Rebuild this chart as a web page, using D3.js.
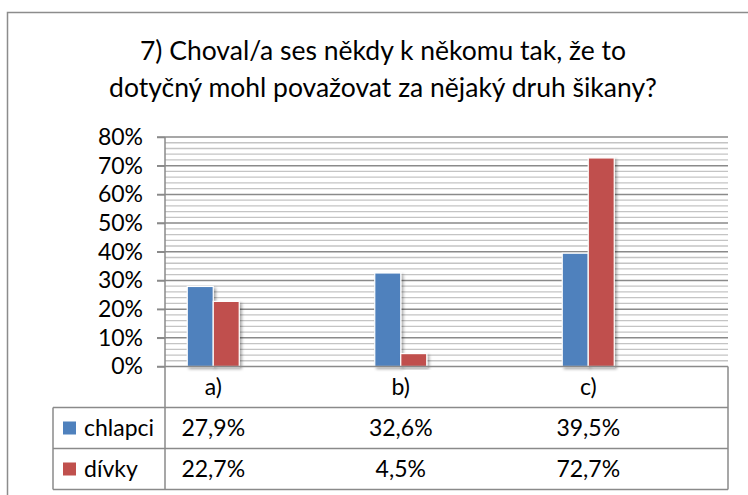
<!DOCTYPE html>
<html>
<head>
<meta charset="utf-8">
<script src="https://cdn.jsdelivr.net/npm/d3@7"></script>
<style>
  body { margin: 0; background: #fff; }
  text { font-family: Lato, "Open Sans", sans-serif; fill: #000; }
</style>
</head>
<body>
<svg id="chart"></svg>
<script>
// ===============================
// Data
// ===============================
const titleLines = [
    "7) Choval/a ses někdy k někomu tak, že to",
    "dotyčný mohl považovat za nějaký druh šikany?"
];
const categories = ["a)", "b)", "c)"];
const seriesNames = ["chlapci", "dívky"];
const chlapci = [27.9, 32.6, 39.5];
const divky = [22.7, 4.5, 72.7];
const yTicks = [0, 10, 20, 30, 40, 50, 60, 70, 80];

const seriesColors = ["#4F81BD", "#C0504D"];

// ===============================
// Layout
// ===============================
const width = 748, height = 495;
const plot = { left: 165, right: 728, top: 137, bottom: 366.5 };
const table = { left: 53, rowH: 41 };
const fontSize = 23;

const svg = d3.select("#chart").attr("width", width).attr("height", height);

// drop shadow for the bars
const defs = svg.append("defs");
defs.append("filter")
    .attr("id", "shadow")
    .attr("x", "-20%").attr("y", "-10%").attr("width", "150%").attr("height", "130%")
    .append("feDropShadow")
    .attr("dx", 2).attr("dy", 2)
    .attr("stdDeviation", 1.8)
    .attr("flood-color", "#000")
    .attr("flood-opacity", 0.35);

// outer chart frame (runs off the right / bottom edge)
svg.append("rect")
    .attr("x", 7.5).attr("y", 12.5)
    .attr("width", 800).attr("height", 600)
    .attr("fill", "none")
    .attr("stroke", "#8c8c8c")
    .attr("stroke-width", 1.5);

// Title
svg.append("g").selectAll("text")
    .data(titleLines)
    .enter()
    .append("text")
    .attr("x", 383)
    .attr("y", (d, i) => 60 + i * 37)
    .attr("text-anchor", "middle")
    .attr("font-size", 26.5)
    .text(d => d);

// ===============================
// Scales
// ===============================
const y = d3.scaleLinear()
    .domain([0, 80])
    .range([plot.bottom, plot.top]);

const x = d3.scaleBand()
    .domain(categories)
    .range([119.5, 682]);

const barW = 26;
const xs = d3.scaleBand()
    .domain(seriesNames)
    .range([x.bandwidth() / 2 - barW, x.bandwidth() / 2 + barW]);

// ===============================
// Gridlines
// ===============================
const minorTicks = d3.range(0, 81, 2).filter(v => v % 10 !== 0);

svg.append("g").selectAll("line")
    .data(minorTicks)
    .enter()
    .append("line")
    .attr("x1", plot.left).attr("x2", plot.right)
    .attr("y1", d => y(d)).attr("y2", d => y(d))
    .attr("stroke", "#c4c4c4")
    .attr("stroke-width", 1.3);

svg.append("g").selectAll("line")
    .data(yTicks.filter(v => v > 0))
    .enter()
    .append("line")
    .attr("x1", plot.left - 8).attr("x2", plot.right)
    .attr("y1", d => y(d)).attr("y2", d => y(d))
    .attr("stroke", "#8a8a8a")
    .attr("stroke-width", 1.5);

// Y axis labels
const yAxis = svg.append("g")
    .attr("transform", `translate(${plot.left}, 0)`)
    .call(d3.axisLeft(y).tickValues(yTicks).tickSize(8).tickPadding(14).tickFormat(d => d + "%"));
yAxis.select(".domain").remove();
yAxis.selectAll(".tick line").attr("stroke", "#8a8a8a").attr("stroke-width", 1.5);
yAxis.selectAll(".tick text")
    .attr("font-size", fontSize)
    .attr("font-family", "Lato, 'Open Sans', sans-serif")
    .attr("fill", "#000");

// ===============================
// Bars
// ===============================
const barData = [];
categories.forEach((c, i) => {
    barData.push({ cat: c, s: seriesNames[0], v: chlapci[i] });
    barData.push({ cat: c, s: seriesNames[1], v: divky[i] });
});

svg.append("g").selectAll("rect")
    .data(barData)
    .enter()
    .append("rect")
    .attr("x", d => x(d.cat) + xs(d.s))
    .attr("y", d => y(d.v))
    .attr("width", xs.bandwidth())
    .attr("height", d => y(0) - y(d.v))
    .attr("fill", d => seriesColors[seriesNames.indexOf(d.s)])
    .attr("stroke", "#fff")
    .attr("stroke-width", 1.2)
    .attr("filter", "url(#shadow)");

// ===============================
// Data table
// ===============================
const rowTop = plot.bottom;
const rowYs = [rowTop, rowTop + table.rowH, rowTop + 2 * table.rowH, rowTop + 3 * table.rowH];
const lineColor = "#8a8a8a";
const grid = svg.append("g").attr("stroke", lineColor).attr("stroke-width", 1.5);

// horizontal table lines
grid.append("line")
    .attr("x1", plot.left - 8).attr("x2", plot.right)
    .attr("y1", rowYs[0]).attr("y2", rowYs[0]);
rowYs.slice(1).forEach(ry => {
    grid.append("line")
        .attr("x1", table.left).attr("x2", plot.right)
        .attr("y1", ry).attr("y2", ry);
});

// vertical table lines
grid.append("line")
    .attr("x1", plot.left).attr("x2", plot.left)
    .attr("y1", plot.top).attr("y2", rowYs[3]);
grid.append("line")
    .attr("x1", plot.right).attr("x2", plot.right)
    .attr("y1", rowYs[0]).attr("y2", rowYs[3]);
grid.append("line")
    .attr("x1", table.left).attr("x2", table.left)
    .attr("y1", rowYs[1]).attr("y2", rowYs[3]);

// category labels
svg.append("g").selectAll("text")
    .data(categories)
    .enter()
    .append("text")
    .attr("x", d => x(d) + x.bandwidth() / 2)
    .attr("y", rowYs[0] + table.rowH / 2)
    .attr("dy", "0.35em")
    .attr("text-anchor", "middle")
    .attr("font-size", fontSize)
    .text(d => d);

// series rows
const fmt = v => v.toFixed(1).replace(".", ",") + "%";
[chlapci, divky].forEach((vals, si) => {
    const cy = rowYs[si + 1] + table.rowH / 2;

    svg.append("rect")
        .attr("x", 63).attr("y", cy - 6.5)
        .attr("width", 13).attr("height", 13)
        .attr("fill", seriesColors[si]);

    svg.append("text")
        .attr("x", 84)
        .attr("y", cy)
        .attr("dy", "0.35em")
        .attr("font-size", fontSize)
        .text(seriesNames[si]);

    svg.append("g").selectAll("text")
        .data(vals)
        .enter()
        .append("text")
        .attr("x", (d, i) => x(categories[i]) + x.bandwidth() / 2)
        .attr("y", cy)
        .attr("dy", "0.35em")
        .attr("text-anchor", "middle")
        .attr("font-size", fontSize)
        .text(d => fmt(d));
});
</script>
</body>
</html>
